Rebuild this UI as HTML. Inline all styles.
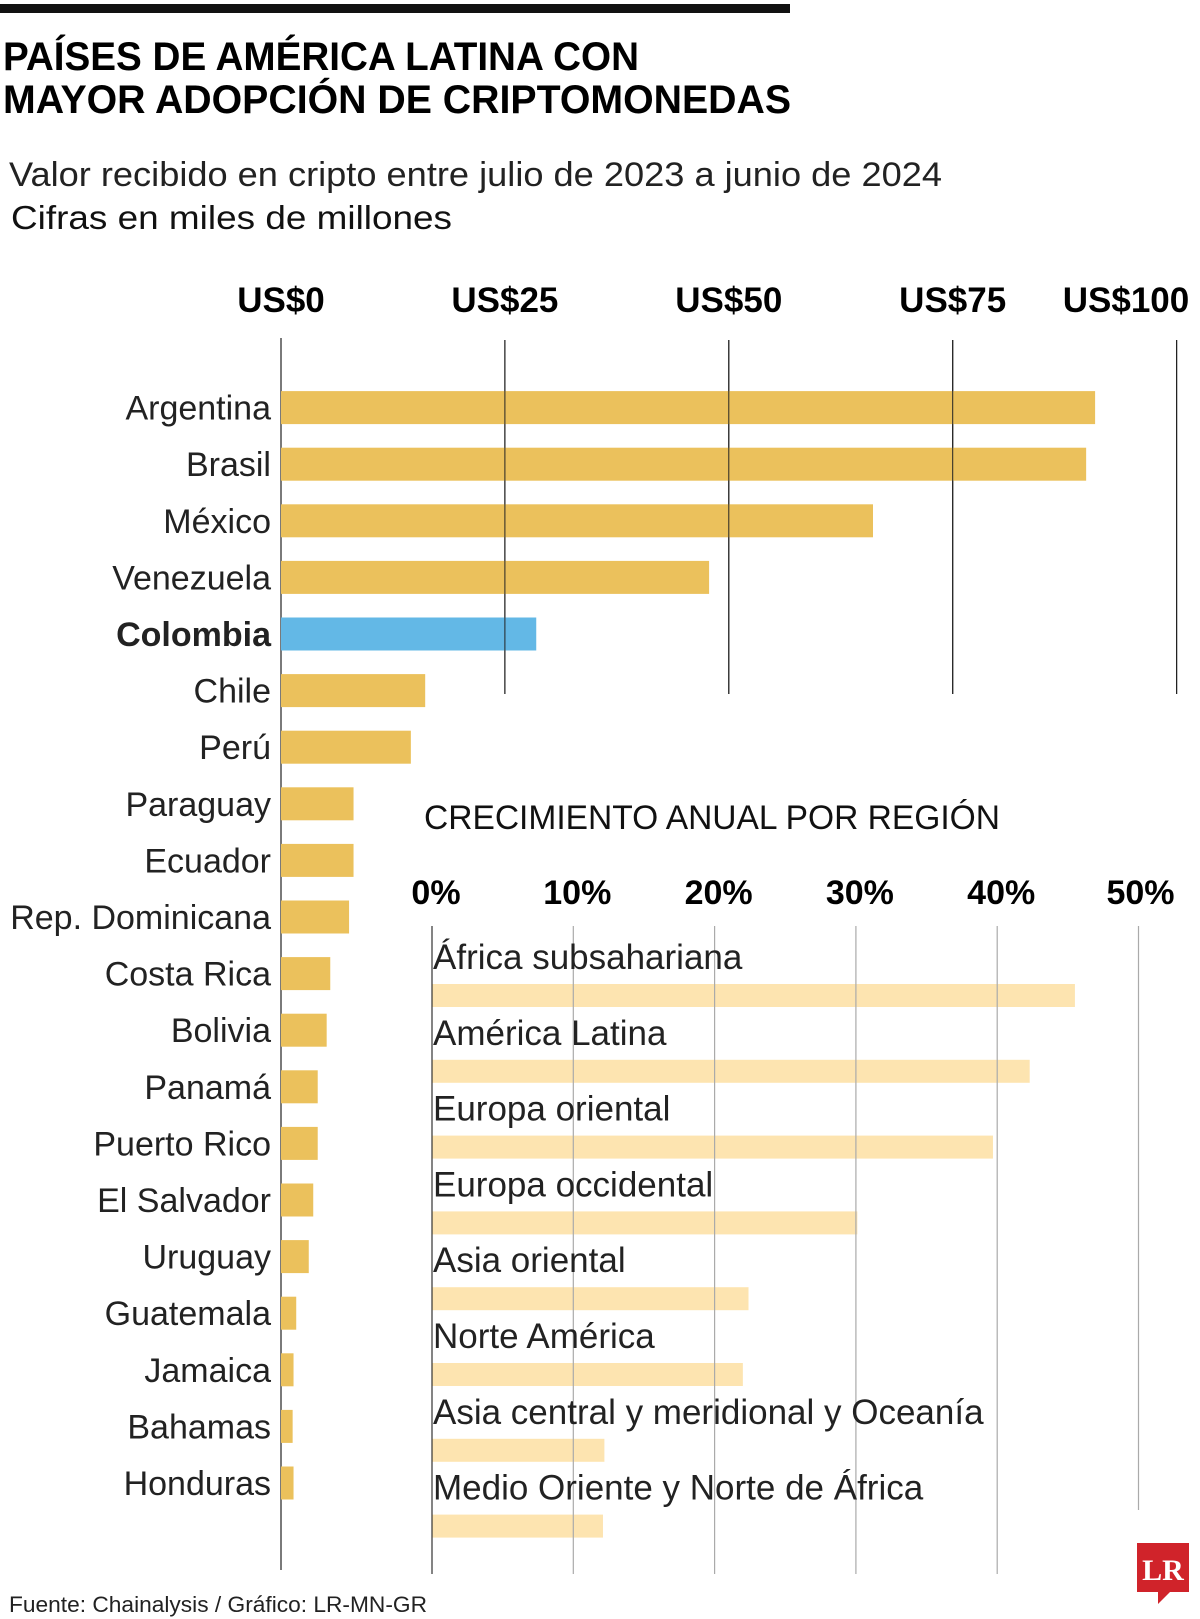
<!DOCTYPE html>
<html><head><meta charset="utf-8"><style>
html,body{margin:0;padding:0;background:#fff;}
svg{display:block;font-family:"Liberation Sans",sans-serif;}
</style></head><body>
<svg id="chart" width="1200" height="1619" viewBox="0 0 1200 1619" xmlns="http://www.w3.org/2000/svg">
<rect x="0" y="4" width="790" height="9" fill="#111"/>
<text x="3" y="70" font-size="40" font-weight="bold" textLength="636" lengthAdjust="spacingAndGlyphs">PAÍSES DE AMÉRICA LATINA CON</text>
<text x="3" y="113" font-size="40" font-weight="bold" textLength="788" lengthAdjust="spacingAndGlyphs">MAYOR ADOPCIÓN DE CRIPTOMONEDAS</text>
<text x="9" y="186" font-size="34" fill="#222" textLength="933" lengthAdjust="spacingAndGlyphs">Valor recibido en cripto entre julio de 2023 a junio de 2024</text>
<text x="11" y="229" font-size="33" fill="#111" textLength="441" lengthAdjust="spacingAndGlyphs">Cifras en miles de millones</text>
<g id="topchart"></g>
<g id="bottomchart"></g>
<text x="9" y="1612" font-size="22" fill="#222" textLength="418" lengthAdjust="spacingAndGlyphs">Fuente: Chainalysis / Gráfico: LR-MN-GR</text>
<g>
<path d="M1137 1543 H1189 V1592 H1170 L1158 1604 L1158 1592 H1137 Z" fill="#d0232a"/>
<text x="1163" y="1580" font-family="Liberation Serif,serif" font-weight="bold" font-size="30" fill="#fff" text-anchor="middle">LR</text>
</g>
</svg>
<script>
const countries=["Argentina","Brasil","México","Venezuela","Colombia","Chile","Perú","Paraguay","Ecuador","Rep. Dominicana","Costa Rica","Bolivia","Panamá","Puerto Rico","El Salvador","Uruguay","Guatemala","Jamaica","Bahamas","Honduras"];
const countryValues=[90.9,89.9,66.1,47.8,28.5,16.1,14.5,8.1,8.1,7.6,5.5,5.1,4.1,4.1,3.6,3.1,1.7,1.4,1.3,1.4];
const topTicks=[0,25,50,75,100];
const topTickLabels=["US$0","US$25","US$50","US$75","US$100"];
const regions=["África subsahariana","América Latina","Europa oriental","Europa occidental","Asia oriental","Norte América","Asia central y meridional y Oceanía","Medio Oriente y Norte de África"];
const regionValues=[45.5,42.3,39.7,30.1,22.4,22.0,12.2,12.1];
const bottomTicks=[0,10,20,30,40,50];
const bottomTickLabels=["0%","10%","20%","30%","40%","50%"];

const NS="http://www.w3.org/2000/svg";
function mk(parent,tag,attrs,txt){const e=document.createElementNS(NS,tag);for(const k in attrs)e.setAttribute(k,attrs[k]);if(txt!==undefined)e.textContent=txt;parent.appendChild(e);return e;}
const xTop=v=>281+v*8.956;
const yTop=i=>407.6+i*56.6;
const xBot=v=>432+v*14.13;
const yBot=i=>984+i*75.8;

const topG=document.getElementById('topchart');
topTicks.forEach((t,i)=>{
  const l=mk(topG,'line',{x1:xTop(t),x2:xTop(t),y1:i===0?338:340,y2:i===0?1570:694,stroke:'#222','stroke-width':1.2});
  
  
  let cx=xTop(t); if(i===topTicks.length-1) cx=1126;
  const tx=mk(topG,'text',{x:cx,y:312,'font-size':35,'font-weight':'bold','text-anchor':'middle'},topTickLabels[i]);
  
  
});
countries.forEach((c,i)=>{
  const cy=yTop(i);
  const r=mk(topG,'rect',{x:xTop(0),y:cy-16.5,width:xTop(countryValues[i])-xTop(0),height:33,fill:c==='Colombia'?'#63b8e6':'#ebc15c'});
  
  
  const t=mk(topG,'text',{x:271,y:cy+12,'font-size':34,'text-anchor':'end','font-weight':c==='Colombia'?'bold':'normal',fill:'#222'},c);
  
  
});
topTicks.slice(1).forEach(t=>{
  const l=mk(topG,'line',{x1:xTop(t),x2:xTop(t),y1:340,y2:694,stroke:'#222','stroke-width':1});
  
  
});

const botG=document.getElementById('bottomchart');
const bt=mk(botG,'text',{x:424,y:829,'font-size':34,fill:'#111',textLength:576,lengthAdjust:'spacingAndGlyphs'},'CRECIMIENTO ANUAL POR REGIÓN');


bottomTicks.forEach((t,i)=>{
  const tx=mk(botG,'text',{x:xBot(t)+(i===5?2:4),y:904,'font-size':34,'font-weight':'bold','text-anchor':'middle'},bottomTickLabels[i]);
  
  
});
regions.forEach((r,i)=>{
  const rb=mk(botG,'rect',{x:xBot(0),y:yBot(i),width:xBot(regionValues[i])-xBot(0),height:23,fill:'#fde4b0'});
  
  
});
bottomTicks.forEach((t,i)=>{
  const l=mk(botG,'line',{x1:xBot(t),x2:xBot(t),y1:926,y2:i===5?1510:1574,stroke:i===0?'#333':'#aaa','stroke-width':1.2});
  
  
});
regions.forEach((r,i)=>{
  const t=mk(botG,'text',{x:433,y:yBot(i)-15,'font-size':35,fill:'#222'},r);
  
  
});
</script>
</body></html>
